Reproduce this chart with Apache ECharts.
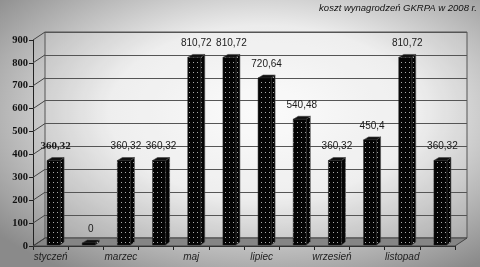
<!DOCTYPE html>
<html><head><meta charset="utf-8">
<script src="https://cdn.jsdelivr.net/npm/echarts@6/dist/echarts.min.js"></script>
<style>html,body{margin:0;padding:0;background:#fff;}#c{width:480px;height:267px;}</style>
</head><body><div id="c"></div>
<script>
const categories = ['styczeń','luty','marzec','kwiecień','maj','czerwiec','lipiec','sierpień','wrzesień','październik','listopad','grudzień'];
const values = [360.32, 0, 360.32, 360.32, 810.72, 810.72, 720.64, 540.48, 360.32, 450.4, 810.72, 360.32];
const yMin = 0, yMax = 900, yStep = 100;
const yTicks = [0, 100, 200, 300, 400, 500, 600, 700, 800, 900];
const titleText = 'koszt wynagrodzeń GKRPA w 2008 r.';

const DX = 12, DY = -8;

// dotted pattern for bars
const pc = document.createElement('canvas'); pc.width = 4; pc.height = 5;
const pg = pc.getContext('2d');
pg.fillStyle = '#050505'; pg.fillRect(0, 0, 4, 5);
pg.fillStyle = '#a8a8a8'; pg.fillRect(1, 2, 1, 1);
const pattern = { image: pc, repeat: 'repeat' };

function fmt(v) { return String(v).replace('.', ','); }

function renderBar(params, api) {
  const i = api.value(0), v = api.value(1);
  const top = api.coord([i, v]), bot = api.coord([i, 0]);
  const cw = api.size([1, 0])[0];
  const fw = cw * 0.37;
  const sx = 3, sy = -3;
  const x0 = top[0] - fw / 2 + sx, x1 = x0 + fw;
  const yT = top[1] + sy, yB = bot[1] - 1;
  const dx = 4, dy = -3;
  const children = [
    { type: 'polygon', shape: { points: [[x1, yB], [x1, yT], [x1 + dx, yT + dy], [x1 + dx, yB + dy]] },
      style: { fill: pattern, stroke: '#555', lineWidth: 0.6 } },
    { type: 'polygon', shape: { points: [[x0, yT], [x1, yT], [x1 + dx, yT + dy], [x0 + dx + 1, yT + dy]] },
      style: { fill: '#111', stroke: '#444', lineWidth: 0.6 } },
    { type: 'rect', shape: { x: x0, y: yT, width: fw, height: Math.max(0, yB - yT) },
      style: { fill: pattern, stroke: '#222', lineWidth: 0.5 } },
    { type: 'text', x: x0 + (fw + dx) / 2, y: yT - 14,
      style: { text: fmt(v), align: 'center', verticalAlign: 'middle',
        font: params.dataIndex === 0 ? 'bold 11px "Liberation Serif"' : '10px "Liberation Sans"',
        fill: '#1a1a1a' } }
  ];
  return { type: 'group', children: children };
}

function renderFrame(params, api) {
  const cs = params.coordSys;
  const xl = cs.x, xr = cs.x + cs.width, yb = cs.y + cs.height;
  const children = [
    { type: 'polygon', shape: { points: [[xl, yb], [xr, yb], [xr + DX, yb + DY], [xl + DX, yb + DY]] },
      style: { fill: '#858585', stroke: '#444', lineWidth: 1 } }
  ];
  yTicks.forEach(function (t) {
    const y = api.coord([0, t])[1];
    children.push({ type: 'line', shape: { x1: xl, y1: y, x2: xl + DX, y2: y + DY },
      style: { stroke: '#444', lineWidth: 1 } });
  });
  return { type: 'group', children: children };
}

const chart = echarts.init(document.getElementById('c'), null, { renderer: 'canvas' });
chart.setOption({
  animation: false,
  graphic: [
    { type: 'rect', x: 0, y: 0, originX: 0, originY: 0, scaleX: 480 / 267, z: -100, silent: true,
      shape: { x: 0, y: 0, width: 267, height: 267 },
      style: { fill: new echarts.graphic.RadialGradient(0.55, 0.42, 0.72, [
        { offset: 0, color: '#fbfbfb' }, { offset: 0.45, color: '#ececec' }, { offset: 1, color: '#8a8a8a' }]) } },
    { type: 'text', right: 3, top: 3, z: 100,
      style: { text: titleText, font: 'italic 9.5px "Liberation Sans"', fill: '#111' } }
  ],
  grid: [
    { left: 33, right: 25, top: 40, bottom: 21 },
    { left: 45, right: 13, top: 32, bottom: 29, show: true, borderColor: '#555', borderWidth: 1, backgroundColor: 'rgba(255,255,255,0.12)' }
  ],
  xAxis: [
    { type: 'category', gridIndex: 0, data: categories, boundaryGap: true,
      axisLine: { show: true, lineStyle: { color: '#222', width: 1 } },
      axisTick: { show: true, interval: 0, length: 4, lineStyle: { color: '#222' } },
      axisLabel: { interval: 1, margin: 6, color: '#222', fontFamily: 'Liberation Sans', fontStyle: 'italic', fontSize: 10 } },
    { type: 'category', gridIndex: 1, data: categories, show: false }
  ],
  yAxis: [
    { type: 'value', gridIndex: 0, min: yMin, max: yMax, interval: yStep,
      axisLine: { show: true, lineStyle: { color: '#222', width: 1 } },
      axisTick: { show: true, length: 4, lineStyle: { color: '#222' } },
      axisLabel: { margin: 5, color: '#111', fontFamily: 'Liberation Serif', fontWeight: 'bold', fontSize: 10.5 },
      splitLine: { show: false } },
    { type: 'value', gridIndex: 1, min: yMin, max: yMax, interval: yStep,
      axisLine: { show: false }, axisTick: { show: false }, axisLabel: { show: false },
      splitLine: { show: true, lineStyle: { color: '#555', width: 1 } } }
  ],
  series: [
    { type: 'custom', xAxisIndex: 0, yAxisIndex: 0, z: 1, clip: false, silent: true,
      renderItem: renderFrame, data: [[0, 0]] },
    { type: 'custom', xAxisIndex: 0, yAxisIndex: 0, z: 5, clip: false, silent: true,
      renderItem: renderBar, data: values.map(function (v, i) { return [i, v]; }) }
  ]
});
</script>
</body></html>
